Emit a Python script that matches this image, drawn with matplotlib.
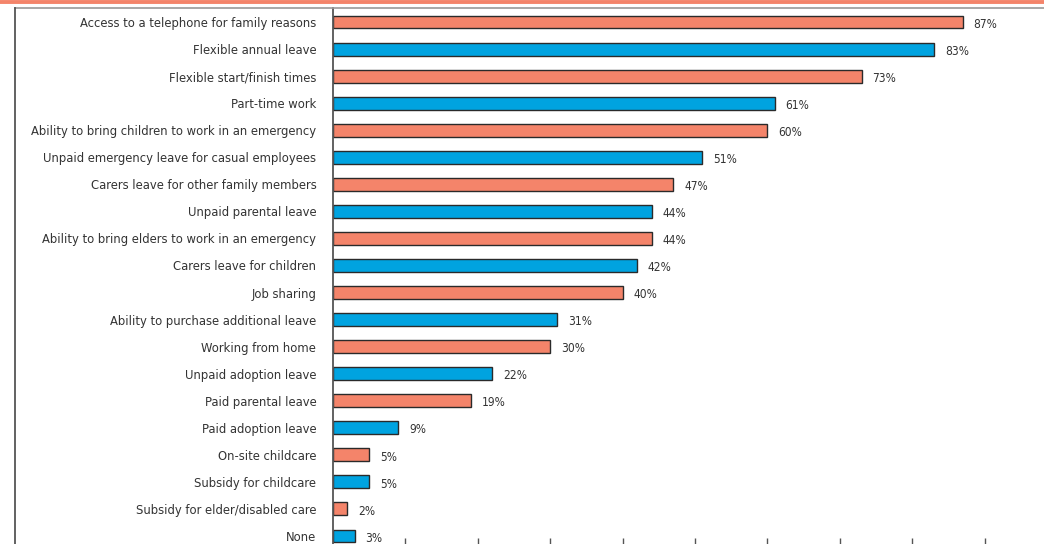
import matplotlib.pyplot as plt
from matplotlib import font_manager
from matplotlib.lines import Line2D

categories = [
    "Access to a telephone for family reasons",
    "Flexible annual leave",
    "Flexible start/finish times",
    "Part-time work",
    "Ability to bring children to work in an emergency",
    "Unpaid emergency leave for casual employees",
    "Carers leave for other family members",
    "Unpaid parental leave",
    "Ability to bring elders to work in an emergency",
    "Carers leave for children",
    "Job sharing",
    "Ability to purchase additional leave",
    "Working from home",
    "Unpaid adoption leave",
    "Paid parental leave",
    "Paid adoption leave",
    "On-site childcare",
    "Subsidy for childcare",
    "Subsidy for elder/disabled care",
    "None",
]
values = [87, 83, 73, 61, 60, 51, 47, 44, 44, 42, 40, 31, 30, 22, 19, 9, 5, 5, 2, 3]

salmon = "#F4846A"
blue = "#00A3E0"
colors = [salmon if i % 2 == 0 else blue for i in range(len(values))]

names = {f.name for f in font_manager.fontManager.ttflist}
if "Liberation Sans Narrow" in names:
    plt.rcParams["font.family"] = "Liberation Sans Narrow"
else:
    plt.rcParams["font.family"] = "DejaVu Sans"
    plt.rcParams["font.stretch"] = "condensed"

W, H = 1044, 544
fig = plt.figure(figsize=(W / 100, H / 100), dpi=100)

# axes from x=333px to right edge, top at 8px, bottom slightly below the canvas
left, top, bottom = 333, 8, 546
ax = fig.add_axes([left / W, 1 - bottom / H, 1 - left / W, (bottom - top) / H])

pos = list(range(len(values)))
ax.barh(pos, values, height=0.48, color=colors, edgecolor="#2a2a2a", linewidth=1.0)
for y, v in zip(pos, values):
    ax.text(v + 1.5, y + 0.08, f"{v}%", va="center", ha="left", fontsize=8.6, color="#333333")

ax.set_xlim(0, (W - left) / 7.24)
ax.set_ylim(19 + 10 / 27.05, -14 / 27.05)
ax.set_yticks(pos)
ax.set_yticklabels(categories, fontsize=9.3, color="#333333")
ax.tick_params(axis="y", length=0, pad=12)
ax.set_xticks(range(10, 100, 10))
ax.set_xticklabels([])
ax.tick_params(axis="x", direction="in", length=5.5, width=1, color="#555555")

for s in ("top", "right", "bottom"):
    ax.spines[s].set_visible(False)
ax.spines["left"].set_color("#555555")
ax.spines["left"].set_linewidth(1.3)

# header band and frame lines
fig.add_artist(Line2D([0, 1], [1 - 1.8 / H, 1 - 1.8 / H], color=salmon, linewidth=2.8))
fig.add_artist(Line2D([14.5 / W, 1], [1 - 7.8 / H, 1 - 7.8 / H], color="#999999", linewidth=1.2))
fig.add_artist(Line2D([14.5 / W, 14.5 / W], [1 - 7.8 / H, 0], color="#555555", linewidth=1.3))

fig.savefig("out.png", dpi=100)
